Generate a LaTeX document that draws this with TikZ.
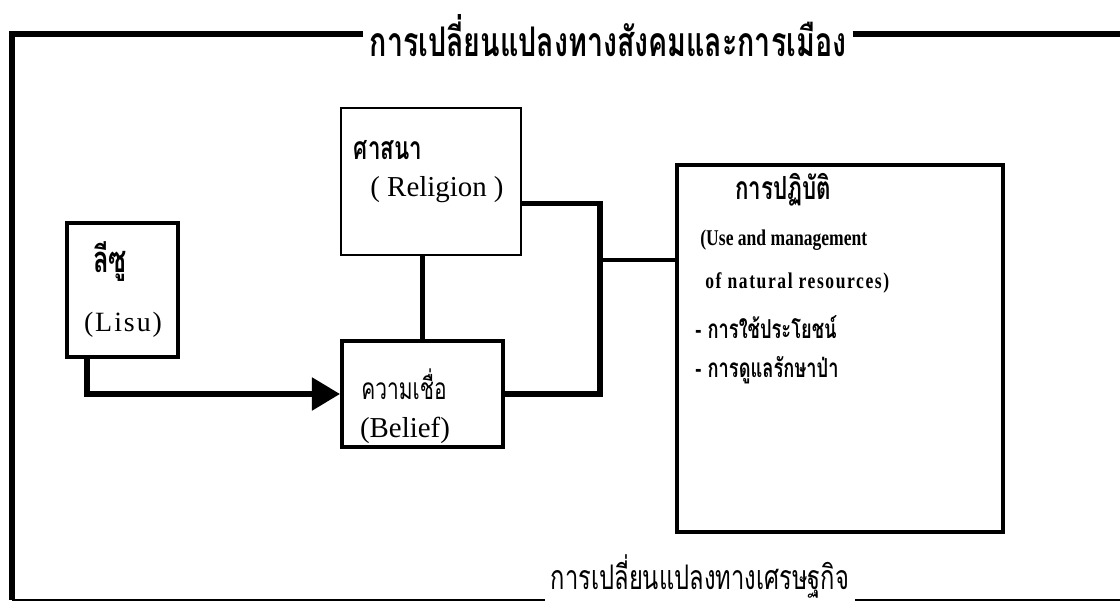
\documentclass[tikz,border=0pt]{standalone}
\usepackage{fontspec}
\setmainfont{Liberation Serif}
\newfontfamily\thai[Script=Thai,FakeStretch=0.7]{Loma}
\newfontfamily\spaced[LetterSpace=7]{Liberation Serif}
\newfontfamily\narrow[FakeStretch=0.78]{Liberation Serif}
\newfontfamily\narrowspaced[FakeStretch=0.78,LetterSpace=7]{Liberation Serif}
\usetikzlibrary{arrows.meta}

\begin{document}
\begin{tikzpicture}[x=0.5bp,y=-0.5bp]
        \tikzstyle{box}=[rectangle,draw,line width=1.2bp,inner sep=0pt]
        \tikzstyle{heavy box}=[box,line width=2bp]
        \tikzstyle{link}=[line width=2.6bp]
        \tikzstyle{eng}=[inner sep=0pt,font=\fontsize{14.5}{16}\selectfont]
        \tikzstyle{th}=[inner sep=0pt,font=\thai\fontsize{16}{18}\selectfont]
        \tikzstyle{thb}=[inner sep=0pt,font=\thai\bfseries\fontsize{16}{18}\selectfont]
        \useasboundingbox (0,0) rectangle (1120,604);
        % frame with the two headings
        \node [thb,fill=white,inner xsep=3bp,font=\thai\bfseries\fontsize{20.5}{22}\selectfont] (social) at (608,36) {การเปลี่ยนแปลงทางสังคมและการเมือง};
        \node [th,fill=white,inner xsep=3bp,anchor=base,font=\thai\fontsize{17}{19}\selectfont] (economic) at (700,590) {การเปลี่ยนแปลงทางเศรษฐกิจ};
        \coordinate (tl) at (12,34);
        \coordinate (tr) at (1120,34);
        \coordinate (bl) at (12,600);
        \coordinate (br) at (1120,600);
        \draw [link] (social.west |- tl) -- (tl) -- (bl);
        \draw [link] (social.east |- tr) -- (tr);
        \draw [line width=1bp] (bl) -- (economic.west |- bl);
        \draw [line width=1bp] (economic.east |- br) -- (br);
        % boxes
        \node [box,minimum width=90bp,minimum height=73.5bp] (religion) at (431,181.5) {};
        \node [heavy box,minimum width=55.5bp,minimum height=67bp] (lisu) at (122.5,290) {};
        \node [heavy box,minimum width=80.5bp,minimum height=53bp] (belief) at (422.5,394) {};
        \node [heavy box,minimum width=163bp,minimum height=183.5bp] (practice) at (840,348.5) {};
        % texts
        \node [thb] (religion th) at (388,150) {ศาสนา};
        \node [eng] (religion en) at (437,190) {( Religion )};
        \node [thb,font=\thai\bfseries\fontsize{18.3}{20}\selectfont] (lisu th) at (110,262) {ลีซู};
        \node [eng,font=\spaced\fontsize{14}{16}\selectfont] (lisu en) at (123,325) {(Lisu)};
        \node [th,font=\thai\fontsize{15}{17}\selectfont] (belief th) at (404,384) {ความเชื่อ};
        \node [eng] (belief en) at (405,430) {(Belief)};
        \node [thb] (practice th) at (783,190) {การปฏิบัติ};
        \node [eng,font=\narrow\bfseries\fontsize{11.3}{13}\selectfont,anchor=west] (use) at (700,240) {(Use and management};
        \node [eng,font=\narrowspaced\bfseries\fontsize{11.3}{13}\selectfont,anchor=west] (resources) at (705,283) {of natural resources)};
        \node [thb,font=\thai\bfseries\fontsize{13.1}{15}\selectfont,anchor=west] (benefit) at (695,327) {- การใช้ประโยชน์};
        \node [thb,font=\thai\bfseries\fontsize{13.1}{15}\selectfont,anchor=west] (forest) at (695,370) {- การดูแลรักษาป่า};
        % connectors
        \coordinate (junction) at (600,260);
        \draw [link,-{Triangle[length=14bp,width=16bp]}] ([xshift=11bp]lisu.south west) |- (belief.west);
        \draw [link] (belief.north) -- (belief.north |- religion.south);
        \draw [link] ([yshift=-11bp]religion.east) -| (junction) |- (belief.east);
        \draw [link,line width=1.8bp] (junction) -- (junction -| practice.west);
\end{tikzpicture}
\end{document}
